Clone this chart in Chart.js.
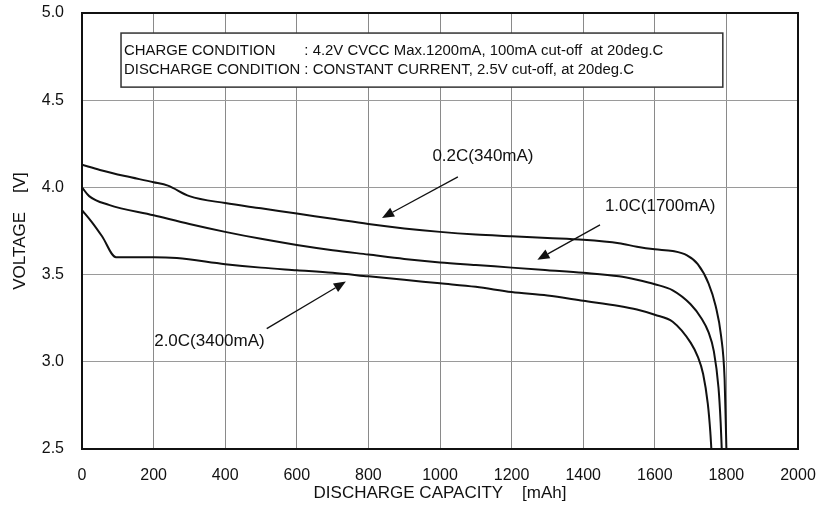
<!DOCTYPE html>
<html>
<head>
<meta charset="utf-8">
<script src="https://cdn.jsdelivr.net/npm/chart.js@4.4.1/dist/chart.umd.min.js"></script>
<style>
  html, body { margin: 0; padding: 0; background: #fff; }
  #wrap { width: 818px; height: 513px; }
</style>
</head>
<body>
<div id="wrap"><canvas id="chart" width="818" height="513"></canvas></div>
<script>
/* ── Data ───────────────────────────────────────────────────── */
const X_TICKS = [0, 200, 400, 600, 800, 1000, 1200, 1400, 1600, 1800, 2000];
const Y_TICKS = [2.5, 3.0, 3.5, 4.0, 4.5, 5.0];

/* 0.2C (340mA) */
const capLow  = [0, 50, 120, 200, 240, 300, 400, 500, 600, 700, 800, 900, 1000, 1100, 1200, 1300, 1400, 1500, 1550, 1600, 1650, 1690, 1720, 1750, 1770, 1785, 1795, 1800];
const voltLow = [4.13, 4.10, 4.065, 4.03, 4.01, 3.95, 3.91, 3.88, 3.85, 3.82, 3.79, 3.765, 3.745, 3.73, 3.72, 3.71, 3.70, 3.68, 3.66, 3.645, 3.635, 3.61, 3.56, 3.45, 3.32, 3.15, 2.9, 2.5];

/* 1.0C (1700mA) */
const capMid  = [0, 20, 75, 200, 300, 400, 500, 600, 700, 800, 900, 1000, 1100, 1200, 1300, 1400, 1500, 1550, 1600, 1650, 1700, 1730, 1750, 1765, 1778, 1784, 1787];
const voltMid = [4.0, 3.95, 3.90, 3.84, 3.79, 3.745, 3.705, 3.67, 3.64, 3.615, 3.59, 3.57, 3.555, 3.54, 3.525, 3.51, 3.49, 3.47, 3.445, 3.41, 3.33, 3.25, 3.17, 3.06, 2.85, 2.65, 2.5];

/* 2.0C (3400mA) */
const capHigh  = [0, 28, 56, 95, 200, 265, 400, 500, 600, 700, 800, 900, 1000, 1100, 1200, 1300, 1400, 1500, 1550, 1600, 1650, 1700, 1720, 1735, 1748, 1755, 1758];
const voltHigh = [3.87, 3.80, 3.72, 3.60, 3.60, 3.595, 3.56, 3.54, 3.525, 3.51, 3.49, 3.47, 3.45, 3.43, 3.40, 3.38, 3.35, 3.32, 3.30, 3.27, 3.23, 3.11, 3.03, 2.93, 2.76, 2.6, 2.5];

/* Curve labels and their arrows, in data units (mAh, V) */
const LABELS      = ["0.2C(340mA)", "1.0C(1700mA)", "2.0C(3400mA)"];
const LABEL_POS   = [[1120, 4.18], [1615, 3.89], [356, 3.115]];
const ARROW_FROM  = [[1050, 4.06], [1447, 3.785], [516, 3.19]];
const ARROW_TO    = [[838, 3.825], [1272, 3.585], [737, 3.46]];

/* Condition box text */
const BOX_LINE1_A = "CHARGE CONDITION";
const BOX_LINE1_B = ": 4.2V CVCC Max.1200mA, 100mA cut-off  at 20deg.C";
const BOX_LINE2   = "DISCHARGE CONDITION : CONSTANT CURRENT, 2.5V cut-off, at 20deg.C";
const BOX_CORNERS = [[109, 4.885], [1790, 4.575]];

const FONT = "'Liberation Sans', Arial, sans-serif";

function toPoints(xs, ys) {
  return xs.map((x, i) => ({ x, y: ys[i] }));
}

function curve(label, xs, ys) {
  return {
    label,
    data: toPoints(xs, ys),
    borderColor: "#111",
    borderWidth: 2,
    pointRadius: 0,
    fill: false,
    cubicInterpolationMode: "monotone",
  };
}

/* ── Frame, condition box, labels and arrows ────────────────── */
const overlay = {
  id: "overlay",
  afterDatasetsDraw(chart) {
    const { ctx, chartArea: a, scales } = chart;
    const px = (p) => [scales.x.getPixelForValue(p[0]), scales.y.getPixelForValue(p[1])];
    ctx.save();

    /* full frame round the plot */
    ctx.strokeStyle = "#111";
    ctx.lineWidth = 2;
    ctx.strokeRect(a.left, a.top, a.right - a.left, a.bottom - a.top);

    /* condition box */
    const [bx0, by0] = px(BOX_CORNERS[0]);
    const [bx1, by1] = px(BOX_CORNERS[1]);
    ctx.fillStyle = "#fff";
    ctx.fillRect(bx0, by0, bx1 - bx0, by1 - by0);
    ctx.lineWidth = 1.5;
    ctx.strokeStyle = "#333";
    ctx.strokeRect(bx0, by0, bx1 - bx0, by1 - by0);

    ctx.fillStyle = "#111";
    ctx.font = "14.9px " + FONT;
    ctx.textBaseline = "middle";
    ctx.textAlign = "left";
    const tx = bx0 + 3;
    const colonX = tx + ctx.measureText("DISCHARGE CONDITION ").width;
    ctx.fillText(BOX_LINE1_A, tx, by0 + 18);
    ctx.fillText(BOX_LINE1_B, colonX, by0 + 18);
    ctx.fillText(BOX_LINE2, tx, by0 + 37);

    /* curve labels */
    ctx.font = "17px " + FONT;
    ctx.textAlign = "center";
    LABELS.forEach((t, i) => {
      const [lx, ly] = px(LABEL_POS[i]);
      ctx.fillText(t, lx, ly);
    });

    /* arrows */
    ctx.lineWidth = 1.3;
    ctx.strokeStyle = "#111";
    ARROW_FROM.forEach((f, i) => {
      const [x0, y0] = px(f);
      const [x1, y1] = px(ARROW_TO[i]);
      const ang = Math.atan2(y1 - y0, x1 - x0);
      const len = 12, half = 5;
      const bxh = x1 - len * Math.cos(ang), byh = y1 - len * Math.sin(ang);
      ctx.beginPath();
      ctx.moveTo(x0, y0);
      ctx.lineTo(bxh, byh);
      ctx.stroke();
      ctx.beginPath();
      ctx.moveTo(x1, y1);
      ctx.lineTo(bxh + half * Math.sin(ang), byh - half * Math.cos(ang));
      ctx.lineTo(bxh - half * Math.sin(ang), byh + half * Math.cos(ang));
      ctx.closePath();
      ctx.fill();
    });
    ctx.restore();
  },
};

/* ── Chart ──────────────────────────────────────────────────── */
new Chart(document.getElementById("chart"), {
  type: "line",
  data: {
    datasets: [
      curve("0.2C", capLow, voltLow),
      curve("1.0C", capMid, voltMid),
      curve("2.0C", capHigh, voltHigh),
    ],
  },
  options: {
    responsive: false,
    animation: false,
    events: [],
    layout: { padding: { left: 0, top: 13, right: 20, bottom: 0 } },
    plugins: { legend: { display: false }, tooltip: { enabled: false } },
    scales: {
      x: {
        type: "linear",
        min: X_TICKS[0],
        max: X_TICKS[X_TICKS.length - 1],
        afterBuildTicks: (s) => { s.ticks = X_TICKS.map((v) => ({ value: v })); },
        afterFit: (s) => {
          s.height = 64;
          s.paddingLeft = 0;
          s.paddingRight = 0;
        },
        grid: { color: "#8a8a8a", lineWidth: 1, drawTicks: false },
        border: { display: true, color: "#111", width: 2 },
        ticks: {
          color: "#111",
          padding: 17,
          font: { family: FONT, size: 16 },
          callback: (v) => String(v),
        },
        title: {
          display: true,
          text: "DISCHARGE CAPACITY    [mAh]",
          color: "#111",
          font: { family: FONT, size: 17 },
          padding: { top: 0, bottom: 9 },
        },
      },
      y: {
        min: Y_TICKS[0],
        max: Y_TICKS[Y_TICKS.length - 1],
        afterBuildTicks: (s) => { s.ticks = Y_TICKS.map((v) => ({ value: v })); },
        afterFit: (s) => {
          s.width = 82;
          s.paddingTop = 0;
          s.paddingBottom = 0;
        },
        grid: { color: "#9a9a9a", lineWidth: 1, drawTicks: false },
        border: { display: true, color: "#111", width: 2 },
        ticks: {
          color: "#111",
          padding: 18,
          font: { family: FONT, size: 16 },
          callback: (v) => Number(v).toFixed(1),
        },
        title: {
          display: true,
          text: "VOLTAGE    [V]",
          color: "#111",
          font: { family: FONT, size: 17 },
          padding: { top: 10, bottom: 0 },
        },
      },
    },
  },
  plugins: [overlay],
});
</script>
</body>
</html>
